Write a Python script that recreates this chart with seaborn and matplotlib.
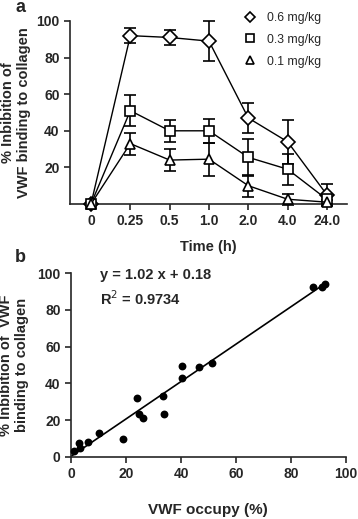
import matplotlib
matplotlib.use("Agg")
import matplotlib.pyplot as plt
import seaborn as sns
import numpy as np
import pandas as pd
from matplotlib.lines import Line2D

sns.set_style("ticks")
plt.rcParams['font.family'] = ['Liberation Sans', 'DejaVu Sans']

# ---- Panel a data ----
time_labels = ["0", "0.25", "0.5", "1.0", "2.0", "4.0", "24.0"]
dose_labels = ["0.6 mg/kg", "0.3 mg/kg", "0.1 mg/kg"]
mean_06 = [0, 92, 91, 89, 47, 34, 5]
err_06 = [0, 4, 4, 11, 8, 12, 6]
mean_03 = [0, 51, 40, 40, 25.5, 19, 2.5]
err_03 = [0, 8.5, 6, 6.5, 10, 8.5, 3]
mean_01 = [0, 33, 24, 24.5, 10, 2.6, 1]
err_01 = [0, 6, 5.8, 9, 6, 3, 1]

# ---- Panel b data ----
occupy = [1.1, 3.0, 3.3, 6.0, 10.2, 19.0, 24.0, 24.8, 26.0, 33.6, 33.9, 40.2, 40.5, 46.7, 51.2, 88.1, 91.2, 92.4]
inhib = [3.3, 7.3, 4.5, 8.0, 12.7, 9.6, 31.8, 23.3, 21.0, 33.0, 23.3, 43.0, 49.6, 49.0, 51.0, 92.7, 92.7, 94.0]
slope = 1.02
intercept = 0.18
r2 = 0.9734

W, H = 358, 519
fig = plt.figure(figsize=(W/100, H/100), dpi=100)

# ---------- Panel a ----------
ax1 = fig.add_axes([70/W, 1-204/H, (347-70)/W, (204-21)/H])
xpos = np.arange(len(time_labels))
series = [(mean_06, err_06, 'D', 7), (mean_03, err_03, 's', 6.8), (mean_01, err_01, '^', 7.5)]
for means, errs, mk, ms in series:
    ax1.errorbar(xpos, means, yerr=errs, fmt='none', ecolor='black',
                 elinewidth=1.2, capsize=4.5, capthick=1.2, clip_on=False, zorder=2)
    df = pd.DataFrame({"x": xpos, "y": means})
    sns.lineplot(data=df, x="x", y="y", ax=ax1, color='black', lw=1.0,
                 marker=mk, ms=ms, mfc='white', mec='black', mew=1.2,
                 clip_on=False, zorder=3)

ax1.set_xlim(-0.534, 6.51)
ax1.set_ylim(0, 100)
ax1.set_xticks(xpos)
ax1.set_xticklabels(time_labels, fontweight='bold', fontsize=10)
ax1.set_yticks([20, 40, 60, 80, 100])
ax1.set_yticklabels(["20", "40", "60", "80", "100"], fontweight='bold', fontsize=10)
ax1.set_xlabel("Time (h)", fontweight='bold', fontsize=10.5)
ax1.xaxis.set_label_coords(0.5, -(247-204)/183)
ax1.xaxis.label.set_va('center')
ax1.set_ylabel("% Inbibition of\nVWF binding to collagen", fontweight='bold', fontsize=10.5, labelpad=4)
sns.despine(ax=ax1)
for sp in ['left', 'bottom']:
    ax1.spines[sp].set_linewidth(1.2)
ax1.tick_params(width=1.2, length=4)

handles = [Line2D([], [], ls='none', marker=m, ms=s * 0.8, mfc='white', mec='black', mew=1.2)
           for (_, _, m, s) in series]
ax1.legend(handles, dose_labels, loc='upper left', bbox_to_anchor=(244/W, 1-12/H),
           bbox_transform=fig.transFigure, borderaxespad=0, borderpad=0,
           frameon=False, fontsize=8.8, handletextpad=0.9, labelspacing=0.8,
           handlelength=1.0)

fig.text(20/W, 1-8/H, "a", fontweight='bold', fontsize=13, va='center', ha='center')

# ---------- Panel b ----------
ax2 = fig.add_axes([71/W, 1-456.7/H, (346-71)/W, (456.7-273.3)/H])
sns.scatterplot(x=occupy, y=inhib, ax=ax2, color='black', s=32, edgecolor='black',
                linewidth=0, zorder=3, clip_on=False)
xl = np.array([min(occupy) - 1.1, max(occupy)])
sns.lineplot(x=xl, y=slope * xl + intercept, ax=ax2, color='black', lw=1.2)
ax2.set_xlim(0, 100)
ax2.set_ylim(0, 100)
ax2.set_xticks([0, 20, 40, 60, 80, 100])
ax2.set_xticklabels(["0", "20", "40", "60", "80", "100"], fontweight='bold', fontsize=10)
ax2.set_yticks([0, 20, 40, 60, 80, 100])
ax2.set_yticklabels(["0", "20", "40", "60", "80", "100"], fontweight='bold', fontsize=10)
ax2.set_xlabel("VWF occupy (%)", fontweight='bold', fontsize=11)
ax2.xaxis.set_label_coords((208-71)/275, -(510-456.7)/183.4)
ax2.xaxis.label.set_va('center')
ax2.set_ylabel("% Inbibition of  VWF\nbinding to collagen", fontweight='bold', fontsize=10.5, labelpad=6)
sns.despine(ax=ax2)
for sp in ['left', 'bottom']:
    ax2.spines[sp].set_linewidth(1.2)
ax2.tick_params(width=1.2, length=4)
ax2.text(10.5, 99, f"y = {slope} x + {intercept}", fontweight='bold', fontsize=10.5, va='center')
ax2.text(10.5, 86.4, f"R$^2$ = {r2}", fontweight='bold', fontsize=10.5, va='center')

fig.text(20/W, 1-257/H, "b", fontweight='bold', fontsize=13, va='center', ha='center')

fig.savefig("out.png", dpi=100)
